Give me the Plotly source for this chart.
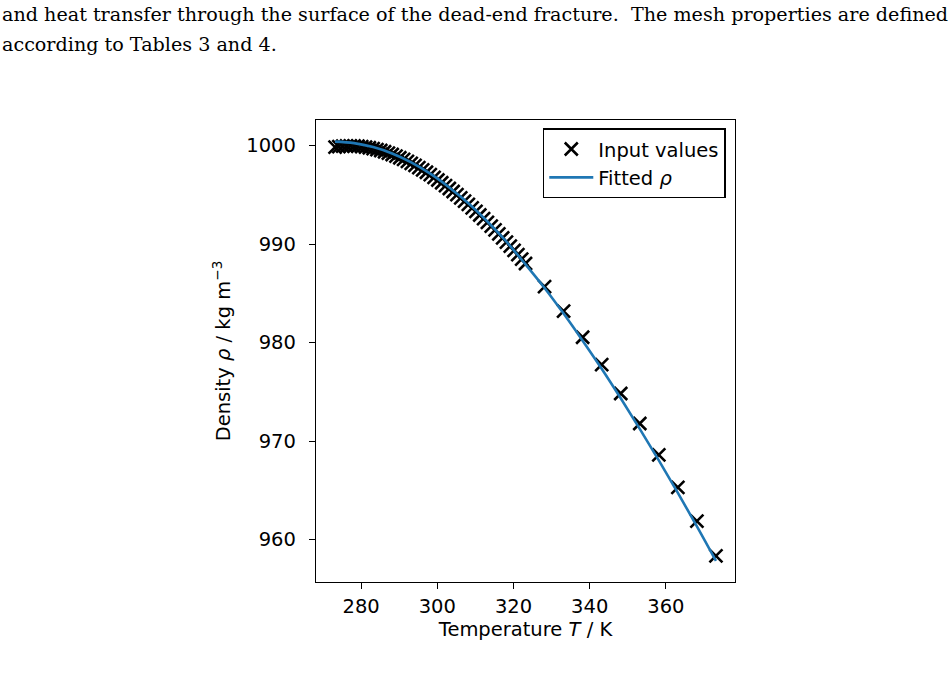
import plotly.graph_objects as go

# Input values: temperature (K) and density (kg/m^3)
T_input = [273.15, 274.15, 275.15, 276.15, 277.15, 278.15, 279.15, 280.15, 281.15, 282.15,
           283.15, 284.15, 285.15, 286.15, 287.15, 288.15, 289.15, 290.15, 291.15, 292.15,
           293.15, 294.15, 295.15, 296.15, 297.15, 298.15, 299.15, 300.15, 301.15, 302.15,
           303.15, 304.15, 305.15, 306.15, 307.15, 308.15, 309.15, 310.15, 311.15, 312.15,
           313.15, 314.15, 315.15, 316.15, 317.15, 318.15, 319.15, 320.15, 321.15, 322.15,
           323.15, 328.15, 333.15, 338.15, 343.15, 348.15, 353.15, 358.15, 363.15, 368.15,
           373.15]
rho_input = [999.84, 999.90, 999.94, 999.96, 999.97, 999.96, 999.94, 999.90, 999.85, 999.78,
             999.70, 999.60, 999.50, 999.38, 999.24, 999.10, 998.94, 998.77, 998.60, 998.40,
             998.20, 997.99, 997.77, 997.54, 997.30, 997.05, 996.78, 996.51, 996.23, 995.94,
             995.65, 995.34, 995.03, 994.70, 994.37, 994.03, 993.68, 993.33, 992.96, 992.59,
             992.21, 991.83, 991.44, 991.04, 990.63, 990.21, 989.79, 989.36, 988.93, 988.48,
             988.03, 985.69, 983.19, 980.55, 977.76, 974.84, 971.79, 968.61, 965.30, 961.88,
             958.35]

# Fitted curve
T_fit = [273.15, 278.15, 283.15, 288.15, 293.15, 298.15, 303.15, 308.15, 313.15, 318.15,
         323.15, 328.15, 333.15, 338.15, 343.15, 348.15, 353.15, 358.15, 363.15, 368.15,
         373.15]
rho_fit = [1000.40, 1000.25, 999.85, 999.20, 998.30, 997.15, 995.75, 994.15, 992.30, 990.25,
           987.95, 985.55, 982.95, 980.20, 977.35, 974.35, 971.25, 968.05, 964.75, 961.35,
           957.85]

x_ticks = [280, 300, 320, 340, 360]
y_ticks = [960, 970, 980, 990, 1000]

FS = 19.5

fig = go.Figure()
fig.add_trace(go.Scatter(
    x=T_input, y=rho_input, mode="markers", name="Input values",
    marker=dict(symbol="x-thin", size=13, color="black",
                line=dict(width=2.6, color="black")),
))
fig.add_trace(go.Scatter(
    x=T_fit, y=rho_fit, mode="lines", name="Fitted <i>ρ</i>",
    line=dict(color="#1f77b4", width=2.6, shape="spline"),
))

axis_common = dict(
    showline=True, linecolor="black", linewidth=1.3, mirror=True,
    ticks="outside", ticklen=6, tickwidth=1.3, tickcolor="black",
    showgrid=False, zeroline=False,
    tickfont=dict(family="DejaVu Sans", size=FS, color="black"),
)

fig.update_layout(
    width=951, height=691,
    margin=dict(l=316, r=216, t=120, b=109),
    paper_bgcolor="white", plot_bgcolor="white",
    font=dict(family="DejaVu Sans", size=FS, color="black"),
    xaxis=dict(range=[268.15, 378.15], tickvals=x_ticks, ticklabelstandoff=0,
               title=dict(text="Temperature <i>T</i> / K", standoff=4,
                          font=dict(family="DejaVu Sans", size=FS)),
               **axis_common),
    yaxis=dict(range=[955.7, 1002.6], tickvals=y_ticks, ticklabelstandoff=9,
               title=dict(text="Density <i>ρ</i> / kg m<sup>−3</sup>", standoff=10,
                          font=dict(family="DejaVu Sans", size=FS)),
               **axis_common),
    legend=dict(x=0.978, y=0.982, xanchor="right", yanchor="top",
                bordercolor="black", borderwidth=1.5, bgcolor="white",
                font=dict(family="DejaVu Sans", size=FS), tracegroupgap=0,
                itemwidth=44),
    showlegend=True,
)

text_font = dict(family="DejaVu Serif", size=19.15, color="black")
fig.add_annotation(
    text="and heat transfer through the surface of the dead-end fracture.  The mesh properties are defined",
    xref="paper", yref="paper", x=-316/419, y=1 + (120 - 15) / 462,
    xanchor="left", yanchor="middle", showarrow=False, font=text_font,
)
fig.add_annotation(
    text="according to Tables 3 and 4.",
    xref="paper", yref="paper", x=-316/419, y=1 + (120 - 45) / 462,
    xanchor="left", yanchor="middle", showarrow=False, font=text_font,
)

fig.write_html("out.html")
